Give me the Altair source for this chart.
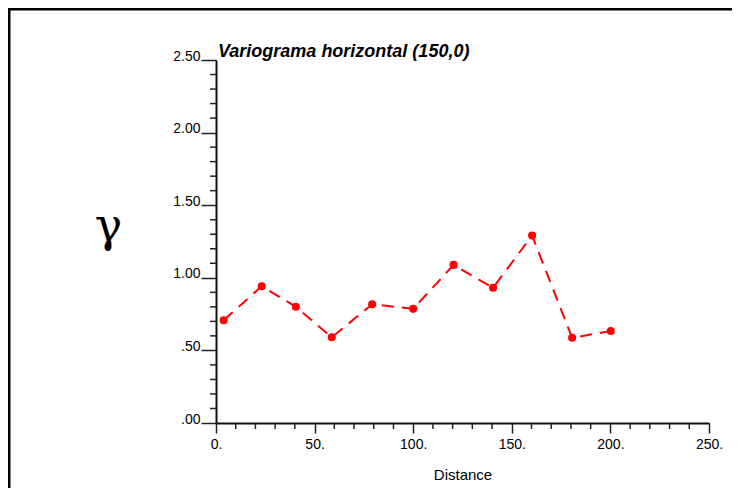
import altair as alt
import pandas as pd

# ---- data ----
distance = [3.9, 23.2, 40.5, 58.7, 79.2, 100.0, 120.5, 140.5, 160.3, 180.6, 200.2]
gamma = [0.708, 0.942, 0.80, 0.59, 0.818, 0.786, 1.089, 0.931, 1.291, 0.587, 0.633]

x_major = [0, 50, 100, 150, 200, 250]
x_minor = [v for v in range(10, 250, 10) if v % 50 != 0]
y_major = [0.0, 0.5, 1.0, 1.5, 2.0, 2.5]
y_minor = [round(k / 10, 1) for k in range(1, 25) if k % 5 != 0]

title_text = "Variograma horizontal (150,0)"
x_title = "Distance"
y_title = "γ"

W, H = 493, 363
FONT = "Liberation Sans"

df = pd.DataFrame({"distance": distance, "gamma": gamma})

xscale = alt.Scale(domain=[0, 250], nice=False, zero=False)
yscale = alt.Scale(domain=[0, 2.5], nice=False, zero=False)

xaxis = alt.Axis(
    values=x_major, labelExpr="format(datum.value, 'd') + '.'",
    tickSize=10, tickWidth=1.5, tickColor="#222",
    domainColor="#111", domainWidth=2, grid=False,
    labelFont=FONT, labelFontSize=14, labelColor="black", labelPadding=4,
    labelAlign="center", labelBaseline="top",
    title=x_title, titleFont=FONT, titleFontSize=15, titleFontWeight="normal",
    titleColor="black", titleBaseline="alphabetic", titleY=56,
)
yaxis = alt.Axis(
    values=y_major,
    labelExpr="datum.value < 1 ? substring(format(datum.value, '.2f'), 1) : format(datum.value, '.2f')",
    tickSize=15, tickWidth=1.5, tickColor="#222",
    domainColor="#111", domainWidth=2, grid=False,
    labelFont=FONT, labelFontSize=14, labelColor="black", labelPadding=1,
    labelAlign="right", labelBaseline="alphabetic",
    title=y_title, titleAngle=0, titleFont="DejaVu Serif", titleFontSize=46,
    titleFontWeight="normal", titleColor="black", titleAlign="center",
    titleBaseline="alphabetic", titleX=-108, titleY=180,
)

line = alt.Chart(df).mark_line(color="#ff0000", strokeWidth=2, strokeDash=[12, 8]).encode(
    x=alt.X("distance:Q", scale=xscale, axis=xaxis),
    y=alt.Y("gamma:Q", scale=yscale, axis=yaxis),
)
points = alt.Chart(df).mark_circle(color="#ff0000", size=65, opacity=1).encode(
    x=alt.X("distance:Q", scale=xscale),
    y=alt.Y("gamma:Q", scale=yscale),
)

xminor = alt.Chart(pd.DataFrame({"xm": x_minor})).mark_rule(color="#222", strokeWidth=1.5).encode(
    x=alt.X("xm:Q", scale=xscale),
    y=alt.value(H), y2=alt.value(H + 6),
)
yminor = alt.Chart(pd.DataFrame({"ym": y_minor})).mark_rule(color="#222", strokeWidth=1.5).encode(
    y=alt.Y("ym:Q", scale=yscale),
    x=alt.value(-6), x2=alt.value(0),
)

title = alt.Chart(alt.Data(values=[{"t": title_text}])).mark_text(
    align="left", baseline="alphabetic", font=FONT, fontSize=18,
    fontStyle="italic", fontWeight="bold", color="black",
).encode(text="t:N", x=alt.value(2), y=alt.value(-3))

frame_top = alt.Chart(alt.Data(values=[{}])).mark_rule(color="black", strokeWidth=3).encode(
    x=alt.value(-208), x2=alt.value(516), y=alt.value(-51),
)
frame_left = alt.Chart(alt.Data(values=[{}])).mark_rule(color="black", strokeWidth=3).encode(
    x=alt.value(-207), y=alt.value(-52), y2=alt.value(H + 70),
)

chart = alt.layer(line, points, xminor, yminor, title, frame_top, frame_left).properties(
    width=W, height=H,
    autosize=alt.AutoSizeParams(type="none"),
    padding={"left": 208, "top": 52, "right": 24, "bottom": 65},
    background="white",
).configure_view(stroke=None)

chart.save("out.html", embed_options={"renderer": "svg", "actions": False})
